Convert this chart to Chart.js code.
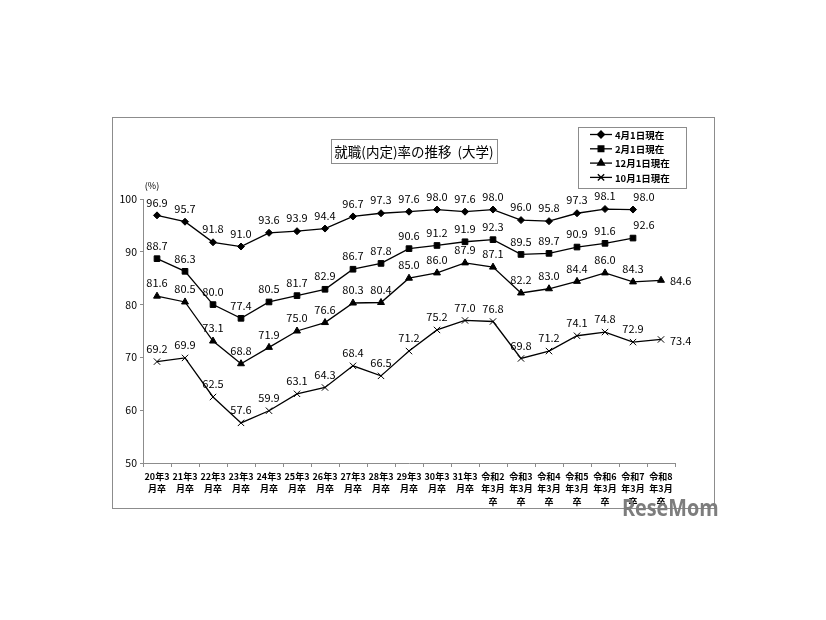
<!DOCTYPE html>
<html lang="ja">
<head>
<meta charset="UTF-8" />
<title>就職(内定)率の推移</title>
<script src="https://cdn.jsdelivr.net/npm/chart.js@4/dist/chart.umd.min.js"></script>
<style>
  html, body { margin: 0; padding: 0; background: #fff; }
  #wrap { width: 826px; height: 620px; }
</style>
</head>
<body>
<div id="wrap"><canvas id="myChart" width="826" height="620"></canvas></div>
<script>
// categories
var labels = [
  ['20年3', '月卒'], ['21年3', '月卒'], ['22年3', '月卒'], ['23年3', '月卒'],
  ['24年3', '月卒'], ['25年3', '月卒'], ['26年3', '月卒'], ['27年3', '月卒'],
  ['28年3', '月卒'], ['29年3', '月卒'], ['30年3', '月卒'], ['31年3', '月卒'],
  ['令和2', '年3月', '卒'], ['令和3', '年3月', '卒'], ['令和4', '年3月', '卒'],
  ['令和5', '年3月', '卒'], ['令和6', '年3月', '卒'], ['令和7', '年3月', '卒'],
  ['令和8', '年3月', '卒']
];

// series values (%)
var apr1 = [96.9, 95.7, 91.8, 91.0, 93.6, 93.9, 94.4, 96.7, 97.3, 97.6, 98.0, 97.6, 98.0, 96.0, 95.8, 97.3, 98.1, 98.0, null];
var feb1 = [88.7, 86.3, 80.0, 77.4, 80.5, 81.7, 82.9, 86.7, 87.8, 90.6, 91.2, 91.9, 92.3, 89.5, 89.7, 90.9, 91.6, 92.6, null];
var dec1 = [81.6, 80.5, 73.1, 68.8, 71.9, 75.0, 76.6, 80.3, 80.4, 85.0, 86.0, 87.9, 87.1, 82.2, 83.0, 84.4, 86.0, 84.3, 84.6];
var oct1 = [69.2, 69.9, 62.5, 57.6, 59.9, 63.1, 64.3, 68.4, 66.5, 71.2, 75.2, 77.0, 76.8, 69.8, 71.2, 74.1, 74.8, 72.9, 73.4];

// y ticks
var yTicks = [50, 60, 70, 80, 90, 100];

var FONT = '"Noto Sans CJK JP", "Noto Sans", sans-serif';

function series(label, data, style, radius) {
  return {
    label: label,
    data: data,
    borderColor: '#000',
    backgroundColor: '#000',
    borderWidth: 1.3,
    pointStyle: style,
    pointRadius: radius,
    pointHoverRadius: radius,
    pointBorderWidth: 1,
    tension: 0,
    spanGaps: false
  };
}

// frame, title box, legend, "(%)"
var decor = {
  id: 'decor',
  beforeDraw: function (chart) {
    var c = chart.ctx;
    c.save();
    c.fillStyle = '#fff';
    c.fillRect(0, 0, chart.width, chart.height);
    c.strokeStyle = '#8c8c8c';
    c.lineWidth = 1;
    c.strokeRect(112.5, 117.5, 602, 391);
    c.restore();
  },
  afterDraw: function (chart) {
    var c = chart.ctx;
    c.save();
    // title
    c.strokeStyle = '#8c8c8c';
    c.strokeRect(331.5, 139.5, 166, 24);
    c.fillStyle = '#000';
    c.font = '13.5px ' + FONT;
    c.textAlign = 'center';
    c.textBaseline = 'middle';
    c.fillText('就職(内定)率の推移  (大学)', 414, 152);

    // legend
    c.strokeRect(578.5, 127.5, 108, 61);
    c.font = 'bold 9.5px ' + FONT;
    c.textAlign = 'left';
    chart.data.datasets.forEach(function (ds, i) {
      var y = 134.5 + i * 14.3;
      c.strokeStyle = '#000';
      c.lineWidth = 1.3;
      c.beginPath();
      c.moveTo(590, y);
      c.lineTo(612, y);
      c.stroke();
      Chart.helpers.drawPoint(c, {
        pointStyle: ds.pointStyle, radius: ds.pointRadius, borderWidth: 1
      }, 601, y);
      c.fillStyle = '#000';
      c.fillText(ds.label, 615, y + 0.5);
    });

    // unit
    c.font = '9px ' + FONT;
    c.textAlign = 'center';
    c.fillText('(%)', 152, 186);

    // watermark
    c.translate(622, 509);
    c.scale(0.86, 1);
    c.font = 'bold 23px "Open Sans", sans-serif';
    c.fillStyle = '#7d7d7d';
    c.textAlign = 'left';
    c.fillText('ReseMom', 0, 0);
    c.restore();
  }
};

// value labels
var valueLabels = {
  id: 'valueLabels',
  afterDatasetsDraw: function (chart) {
    var c = chart.ctx;
    c.save();
    c.font = '11px ' + FONT;
    c.fillStyle = '#000';
    c.textBaseline = 'middle';
    chart.data.datasets.forEach(function (ds, di) {
      var meta = chart.getDatasetMeta(di);
      var last = -1;
      ds.data.forEach(function (v, j) { if (v !== null) last = j; });
      meta.data.forEach(function (pt, j) {
        var v = ds.data[j];
        if (v === null) return;
        var txt = v.toFixed(1);
        if (j === last && j === ds.data.length - 1) {
          c.textAlign = 'left';
          c.fillText(txt, pt.x + 9, pt.y + 1);
        } else if (j === last) {
          c.textAlign = 'center';
          c.fillText(txt, pt.x + 11, pt.y - 13);
        } else {
          c.textAlign = 'center';
          c.fillText(txt, pt.x, pt.y - 13);
        }
      });
    });
    c.restore();
  }
};

var ctx = document.getElementById('myChart').getContext('2d');
var myChart = new Chart(ctx, {
  type: 'line',
  data: {
    labels: labels,
    datasets: [
      series('4月1日現在', apr1, 'rectRot', 3.5),
      series('2月1日現在', feb1, 'rect', 4),
      series('12月1日現在', dec1, 'triangle', 4),
      series('10月1日現在', oct1, 'crossRot', 4.5)
    ]
  },
  options: {
    responsive: false,
    animation: false,
    events: [],
    layout: { padding: { left: 113, right: 151, top: 199, bottom: 107 } },
    plugins: {
      legend: { display: false },
      title: { display: false },
      tooltip: { enabled: false }
    },
    scales: {
      x: {
        offset: true,
        grid: {
          offset: true,
          drawOnChartArea: false,
          drawTicks: true,
          tickLength: 4,
          color: '#8c8c8c'
        },
        border: { color: '#8c8c8c', width: 1 },
        ticks: {
          autoSkip: false,
          maxRotation: 0,
          padding: 3,
          color: '#000',
          font: { family: FONT, size: 9, weight: 'bold', lineHeight: 1.4 }
        },
        afterFit: function (s) { s.height = 50; }
      },
      y: {
        min: 50,
        max: 100,
        afterBuildTicks: function (s) { s.ticks = yTicks.map(function (v) { return { value: v }; }); },
        grid: {
          drawOnChartArea: false,
          drawTicks: true,
          tickLength: 3,
          color: '#8c8c8c'
        },
        border: { color: '#8c8c8c', width: 1 },
        ticks: {
          padding: 3,
          color: '#000',
          font: { family: FONT, size: 10.5 }
        },
        afterFit: function (s) { s.width = 30; }
      }
    }
  },
  plugins: [decor, valueLabels]
});
</script>
</body>
</html>
